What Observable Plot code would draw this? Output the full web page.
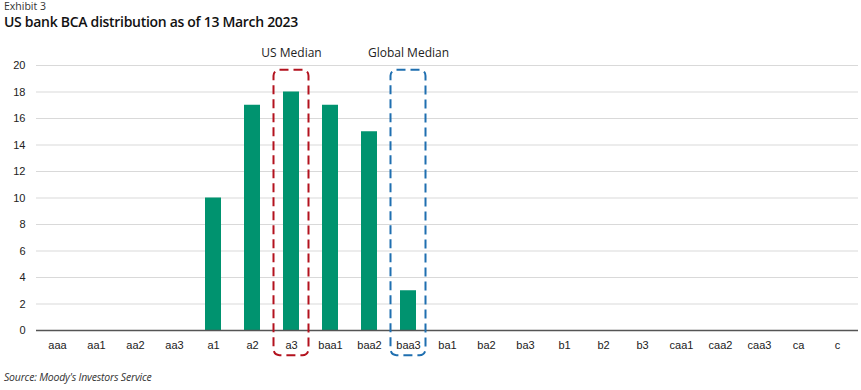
<!DOCTYPE html>
<html>
<head>
<meta charset="utf-8">
<script src="https://cdn.jsdelivr.net/npm/d3@7"></script>
<script src="https://cdn.jsdelivr.net/npm/@observablehq/plot@0.6"></script>
<style>
  body { margin: 0; background: #fff; width: 861px; height: 390px; overflow: hidden; }
  #exhibit { position: absolute; left: 4px; top: 1px; font: 10.5px/11px "Open Sans", sans-serif; color: #333; }
  #title { position: absolute; left: 4px; top: 14px; font: 600 14px/15px "Open Sans", sans-serif; color: #111; letter-spacing: -0.3px; }
  #chart { position: absolute; left: 0; top: 38px; }
  #source { position: absolute; left: 4px; top: 370px; font: italic 10.5px/14px "Open Sans", sans-serif; color: #333; letter-spacing: -0.2px; }
</style>
</head>
<body>
<div id="exhibit">Exhibit 3</div>
<div id="title">US bank BCA distribution as of 13 March 2023</div>
<div id="chart"></div>
<div id="source">Source: Moody's Investors Service</div>
<script>
const categories = ["aaa","aa1","aa2","aa3","a1","a2","a3","baa1","baa2","baa3","ba1","ba2","ba3","b1","b2","b3","caa1","caa2","caa3","ca","c"];
const counts = [0,0,0,0,10,17,18,17,15,3,0,0,0,0,0,0,0,0,0,0,0];
const yTicks = [0,2,4,6,8,10,12,14,16,18,20];
const medians = [
  {label: "US Median", category: "a3", color: "#b3121e"},
  {label: "Global Median", category: "baa3", color: "#1f6fb0"}
];
const boxTop = 19.65;
const boxBottom = -1.9;

const data = categories.map((c, i) => ({category: c, count: counts[i]}));

const chart = Plot.plot({
  width: 861,
  height: 327,
  marginLeft: 36,
  marginRight: 3,
  marginTop: 27,
  marginBottom: 35,
  style: {fontFamily: "'Liberation Sans', Arial, sans-serif", fontSize: "11px", color: "#222", background: "white", overflow: "visible"},
  x: {domain: categories, paddingInner: 0.6, paddingOuter: 0.2, label: null},
  y: {domain: [0, 20], ticks: yTicks, label: null},
  marks: [
    Plot.gridY(yTicks.filter(d => d > 0), {stroke: "#d9d9d9", strokeOpacity: 1, strokeWidth: 1}),
    Plot.axisY({ticks: yTicks, tickSize: 0, tickPadding: 11, label: null, fontSize: 11}),
    Plot.axisX({tickSize: 0, tickPadding: 11, label: null, fontSize: 11}),
    Plot.barY(data, {x: "category", y: "count", fill: "#00936f"}),
    Plot.ruleY([0], {stroke: "#555", strokeWidth: 1.5}),
    Plot.barY(medians, {x: "category", y1: boxBottom, y2: boxTop, fill: "none", stroke: "color",
      strokeWidth: 2, strokeDasharray: "9,5", rx: 6, insetLeft: -9.5, insetRight: -9.5}),
    Plot.text(medians, {x: "category", y: boxTop, text: "label", dy: -17, fontSize: 12,
      fontFamily: "'Open Sans', sans-serif", fill: "#222"})
  ]
});
document.getElementById("chart").appendChild(chart);
</script>
</body>
</html>
